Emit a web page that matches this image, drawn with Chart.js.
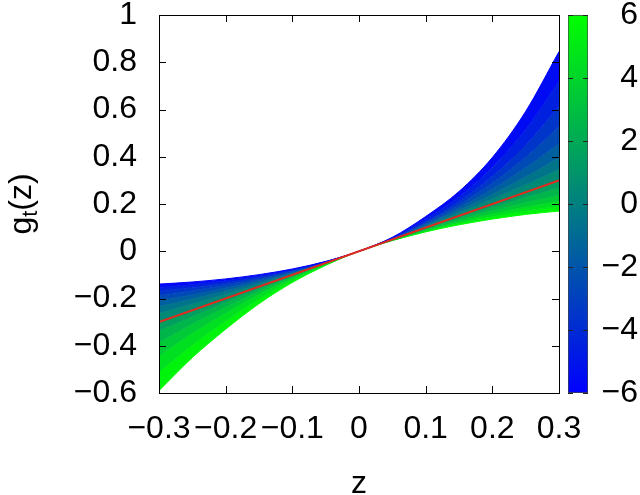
<!DOCTYPE html>
<html>
<head>
<meta charset="utf-8">
<script src="https://cdn.jsdelivr.net/npm/chart.js@4.4.1/dist/chart.umd.min.js"></script>
<style>
body { margin: 0; background: #fff; }
#wrap { position: relative; width: 640px; height: 495px; }
canvas { position: absolute; left: 0; top: 0; }
</style>
</head>
<body>
<div id="wrap">
<canvas id="plot" width="640" height="495"></canvas>
<canvas id="cbar" width="640" height="495"></canvas>
</div>
<script>
// sample points along z, and one curve g_t(z) per value of t
const zValues = [-0.3, -0.25, -0.2, -0.15, -0.1, -0.05, 0, 0.05, 0.1, 0.15, 0.2, 0.25, 0.3];
const tValues = [-6, -5, -4, -3, -2, -1, 0, 1, 2, 3, 4, 5, 6];

const gTm6 = [-0.139, -0.130, -0.117, -0.099, -0.075, -0.043, 0, 0.059, 0.147, 0.253, 0.397, 0.592, 0.845];
const gTm5 = [-0.153, -0.141, -0.125, -0.105, -0.078, -0.044, 0, 0.057, 0.136, 0.231, 0.355, 0.515, 0.720];
const gTm4 = [-0.168, -0.153, -0.134, -0.110, -0.081, -0.045, 0, 0.056, 0.125, 0.211, 0.317, 0.449, 0.613];
const gTm3 = [-0.187, -0.167, -0.144, -0.117, -0.085, -0.046, 0, 0.055, 0.120, 0.197, 0.289, 0.398, 0.527];
const gTm2 = [-0.208, -0.184, -0.156, -0.124, -0.088, -0.047, 0, 0.053, 0.114, 0.184, 0.263, 0.353, 0.456];
const gTm1 = [-0.233, -0.202, -0.168, -0.132, -0.092, -0.048, 0, 0.052, 0.109, 0.172, 0.240, 0.315, 0.396];
const gT0  = [-0.262, -0.223, -0.183, -0.140, -0.096, -0.049, 0, 0.051, 0.105, 0.161, 0.220, 0.281, 0.346];
const gTp1 = [-0.297, -0.248, -0.198, -0.149, -0.100, -0.050, 0, 0.050, 0.100, 0.151, 0.202, 0.253, 0.304];
const gTp2 = [-0.337, -0.276, -0.216, -0.159, -0.104, -0.051, 0, 0.049, 0.096, 0.142, 0.185, 0.228, 0.268];
const gTp3 = [-0.386, -0.308, -0.236, -0.170, -0.109, -0.052, 0, 0.048, 0.092, 0.133, 0.171, 0.206, 0.238];
const gTp4 = [-0.444, -0.347, -0.262, -0.183, -0.114, -0.053, 0, 0.047, 0.089, 0.125, 0.158, 0.187, 0.212];
const gTp5 = [-0.513, -0.398, -0.296, -0.203, -0.124, -0.057, 0, 0.046, 0.085, 0.118, 0.146, 0.170, 0.190];
const gTp6 = [-0.590, -0.450, -0.330, -0.222, -0.132, -0.060, 0, 0.045, 0.082, 0.112, 0.136, 0.156, 0.170];

// red reference line
const lineZ = [-0.3, 0.3];
const lineG = [-0.3, 0.3];

const colorbarRange = [-6, 6];

const curves = [gTm6, gTm5, gTm4, gTm3, gTm2, gTm1, gT0, gTp1, gTp2, gTp3, gTp4, gTp5, gTp6];

const FONT = "'Liberation Sans', Arial, sans-serif";
const tickFont = { family: FONT, size: 32, lineHeight: 0.9 };

function tColor(t) {
    const f = (t + 6) / 12;
    return `rgb(0, ${Math.round(255 * f)}, ${Math.round(255 * (1 - f))})`;
}

function fmt(v) {
    return String(Math.round(v * 10) / 10).replace('-', '\u2212');
}

const datasets = curves.map((vals, i) => ({
    data: zValues.map((z, j) => ({ x: z, y: vals[j] })),
    borderColor: tColor(tValues[i]),
    borderWidth: 1,
    pointRadius: 0,
    cubicInterpolationMode: 'monotone',
    fill: i === 0 ? false : '-1',
    backgroundColor: i === 0 ? 'transparent' : tColor((tValues[i] + tValues[i - 1]) / 2)
}));

datasets.push({
    data: lineZ.map((z, j) => ({ x: z, y: lineG[j] })),
    borderColor: '#e3281d',
    borderWidth: 2,
    pointRadius: 0,
    fill: false,
    order: -1
});

// inward ticks, frame and axis titles like gnuplot
const framePlugin = {
    id: 'frame',
    afterDraw(chart) {
        const { ctx, chartArea: a, scales } = chart;
        ctx.save();
        ctx.strokeStyle = '#000';
        ctx.lineWidth = 1;
        ctx.beginPath();
        scales.x.ticks.forEach(tk => {
            const x = Math.round(scales.x.getPixelForValue(tk.value)) + 0.5;
            ctx.moveTo(x, a.bottom); ctx.lineTo(x, a.bottom - 7);
            ctx.moveTo(x, a.top); ctx.lineTo(x, a.top + 7);
        });
        scales.y.ticks.forEach(tk => {
            const y = Math.round(scales.y.getPixelForValue(tk.value)) + 0.5;
            ctx.moveTo(a.left, y); ctx.lineTo(a.left + 7, y);
            ctx.moveTo(a.right, y); ctx.lineTo(a.right - 7, y);
        });
        ctx.stroke();
        ctx.strokeRect(Math.round(a.left) + 0.5, Math.round(a.top) + 0.5,
            Math.round(a.right - a.left), Math.round(a.bottom - a.top));

        ctx.fillStyle = '#000';
        ctx.font = `32px ${FONT}`;
        ctx.textAlign = 'center';
        ctx.textBaseline = 'alphabetic';
        ctx.fillText('z', (a.left + a.right) / 2, 493);

        // y title g_t(z), rotated, with subscript
        const subFont = `22px ${FONT}`;
        ctx.font = `32px ${FONT}`;
        const wg = ctx.measureText('g').width;
        const wz = ctx.measureText('(z)').width;
        ctx.font = subFont;
        const wt = ctx.measureText('t').width;
        const total = wg + wt + wz;
        ctx.translate(31, (a.top + a.bottom) / 2);
        ctx.rotate(-Math.PI / 2);
        ctx.textAlign = 'left';
        const x0 = -total / 2;
        ctx.font = `32px ${FONT}`;
        ctx.fillText('g', x0, 0);
        ctx.font = subFont;
        ctx.fillText('t', x0 + wg, 6);
        ctx.font = `32px ${FONT}`;
        ctx.fillText('(z)', x0 + wg + wt, 0);
        ctx.restore();
    }
};

new Chart(document.getElementById('plot'), {
    type: 'line',
    data: { datasets },
    options: {
        responsive: false,
        animation: false,
        layout: { padding: { left: 0, right: 81, top: 15, bottom: 0 } },
        plugins: { legend: { display: false }, tooltip: { enabled: false } },
        scales: {
            x: {
                type: 'linear',
                min: -0.3, max: 0.3,
                grid: { display: false, drawTicks: true, tickLength: 22 },
                border: { display: false },
                ticks: { stepSize: 0.1, autoSkip: false, maxRotation: 0, padding: 0,
                    color: '#000', font: tickFont, callback: fmt },
                afterFit(s) { s.height = 102; }
            },
            y: {
                min: -0.6, max: 1,
                grid: { display: false, drawTicks: true, tickLength: 22 },
                border: { display: false },
                ticks: { stepSize: 0.2, autoSkip: false, padding: 0,
                    color: '#000', font: tickFont, callback: fmt },
                afterFit(s) { s.width = 159; }
            }
        }
    },
    plugins: [framePlugin]
});

const cbarTicks = {
    id: 'cbarTicks',
    afterDraw(chart) {
        const { ctx, chartArea: a, scales } = chart;
        ctx.save();
        ctx.strokeStyle = '#222';
        ctx.lineWidth = 1;
        ctx.beginPath();
        scales.y.ticks.forEach(tk => {
            const y = Math.round(scales.y.getPixelForValue(tk.value)) + 0.5;
            ctx.moveTo(a.left, y); ctx.lineTo(a.left + 5, y);
            ctx.moveTo(a.right, y); ctx.lineTo(a.right - 5, y);
        });
        ctx.stroke();
        ctx.restore();
    }
};

new Chart(document.getElementById('cbar'), {
    type: 'bar',
    data: {
        labels: [''],
        datasets: [{
            data: [colorbarRange],
            backgroundColor(c) {
                const a = c.chart.chartArea;
                if (!a) return tColor(0);
                const g = c.chart.ctx.createLinearGradient(0, a.bottom, 0, a.top);
                g.addColorStop(0, tColor(colorbarRange[0]));
                g.addColorStop(1, tColor(colorbarRange[1]));
                return g;
            },
            borderColor: '#444',
            borderWidth: 1,
            borderSkipped: false,
            barPercentage: 1,
            categoryPercentage: 1
        }]
    },
    options: {
        responsive: false,
        animation: false,
        layout: { padding: { left: 568, right: 2, top: 15, bottom: 102 } },
        plugins: { legend: { display: false }, tooltip: { enabled: false } },
        scales: {
            x: { display: false },
            y: {
                position: 'right',
                min: colorbarRange[0], max: colorbarRange[1],
                grid: { display: false, drawTicks: true, tickLength: 8 },
                border: { display: false },
                ticks: { stepSize: 2, padding: 0, crossAlign: 'far',
                    color: '#000', font: tickFont, callback: fmt },
                afterFit(s) { s.width = 50; }
            }
        }
    },
    plugins: [cbarTicks]
});
</script>
</body>
</html>
